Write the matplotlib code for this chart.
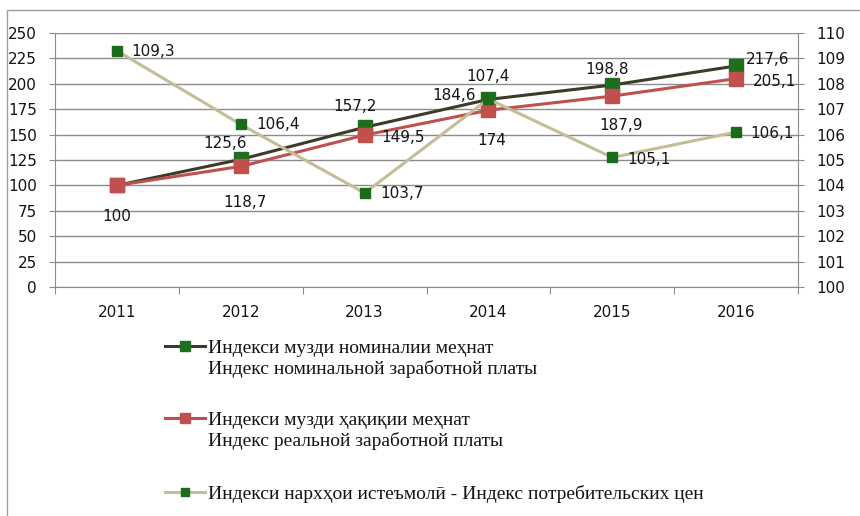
import matplotlib
matplotlib.use("Agg")
import matplotlib.pyplot as plt
from matplotlib.patches import Rectangle

years = ["2011", "2012", "2013", "2014", "2015", "2016"]
nominal = [100, 125.6, 157.2, 184.6, 198.8, 217.6]
real = [100, 118.7, 149.5, 174, 187.9, 205.1]
cpi = [109.3, 106.4, 103.7, 107.4, 105.1, 106.1]

left_ticks = list(range(0, 251, 25))
right_ticks = list(range(100, 111))

nominal_name = ["Индекси музди номиналии меҳнат", "Индекс номинальной заработной платы"]
real_name = ["Индекси музди ҳақиқии меҳнат", "Индекс реальной заработной платы"]
cpi_name = ["Индекси нархҳои истеъмолӣ - Индекс потребительских цен"]

# label offsets in pixels (None = no label)
nominal_off = [(0, -31), (-16, 16), (-10, 21), (-34, 4), (-5, 16), (32, 6)]
real_off = [None, (4, -36), (38, -2), (3, -30), (9, -29), (38, -3)]
cpi_off = [(36, -1), (37, 0), (37, 0), (0, 23), (37, -2), (36, -1)]

W, H = 860, 516
fig = plt.figure(figsize=(W / 100, H / 100), dpi=100)
ax = fig.add_axes([55 / W, 1 - 287 / H, (798 - 55) / W, (287 - 33) / H])
ax2 = ax.twinx()

x = list(range(len(years)))
grid_c = "#8c8c8c"
txt_c = "#141414"

l1, = ax.plot(x, nominal, color="#3d3a28", lw=2.2, marker="s", ms=9.5,
              mfc="#1e6e1e", mec="#1e6e1e", zorder=3)
l2, = ax.plot(x, real, color="#c0504d", lw=2.2, marker="s", ms=10.5,
              mfc="#c0504d", mec="#c0504d", zorder=4)
l3, = ax2.plot(x, cpi, color="#c4bd97", lw=2.2, marker="s", ms=6.5,
               mfc="#1a6b1a", mec="#1a6b1a", zorder=5)

ax.set_xlim(-0.5, 5.5)
ax.set_ylim(0, 250)
ax2.set_ylim(100, 110)
ax.set_yticks(left_ticks)
ax2.set_yticks(right_ticks)
ax.set_xticks([i - 0.5 for i in range(len(years) + 1)])
ax.set_xticklabels([])
ax.set_xticks(x, minor=True)
ax.set_xticklabels(years, minor=True)

ax.yaxis.grid(True, color=grid_c, lw=1)
ax.set_axisbelow(True)

for a in (ax, ax2):
    for s in a.spines.values():
        s.set_color(grid_c)
    a.spines["top"].set_visible(False)
ax.spines["right"].set_visible(False)
ax2.spines["left"].set_visible(False)
ax2.spines["bottom"].set_visible(False)

ax.tick_params(axis="x", which="major", length=5, color=grid_c)
ax.tick_params(axis="x", which="minor", length=0, pad=13, labelsize=11, labelcolor=txt_c)
ax.tick_params(axis="y", length=4, color=grid_c, pad=9, labelsize=11, labelcolor=txt_c)
ax2.tick_params(axis="y", length=4, color=grid_c, pad=9, labelsize=11, labelcolor=txt_c)

def label(axis, vals, offs):
    for i, (v, o) in enumerate(zip(vals, offs)):
        if o is None:
            continue
        s = ("%g" % v).replace(".", ",")
        axis.annotate(s, (i, v), xytext=o, textcoords="offset pixels",
                      ha="center", va="center", fontsize=11, color=txt_c, zorder=6)

label(ax, nominal, nominal_off)
label(ax, real, real_off)
label(ax2, cpi, cpi_off)

# legend, one block per series
leg_size = 14
leg_font = dict(family="Liberation Serif", size=leg_size)
fs_px = leg_size * 100 / 72
entries = [(l1, nominal_name, 348, 0.75), (l2, real_name, 420, 0.7), (l3, cpi_name, 494, 0.95)]
for h, names, ypx, ms in entries:
    lg = fig.legend([h], [names[0]], loc="center left",
                    bbox_to_anchor=(165 / W, 1 - ypx / H), frameon=False,
                    borderpad=0, borderaxespad=0, handlelength=40 / fs_px,
                    handletextpad=3 / fs_px, markerscale=ms, prop=leg_font)
    for t in lg.get_texts():
        t.set_color(txt_c)
    for extra, name in enumerate(names[1:], 1):
        fig.text(208 / W, 1 - (ypx + 21 * extra) / H, name, ha="left", va="center",
                 color=txt_c, **leg_font)

fig.add_artist(Rectangle((7 / W, -0.1), 1.2, 1.1 - 10 / H, transform=fig.transFigure,
                         fill=False, edgecolor="#a0a0a0", lw=1))

fig.savefig("out.png", dpi=100)
